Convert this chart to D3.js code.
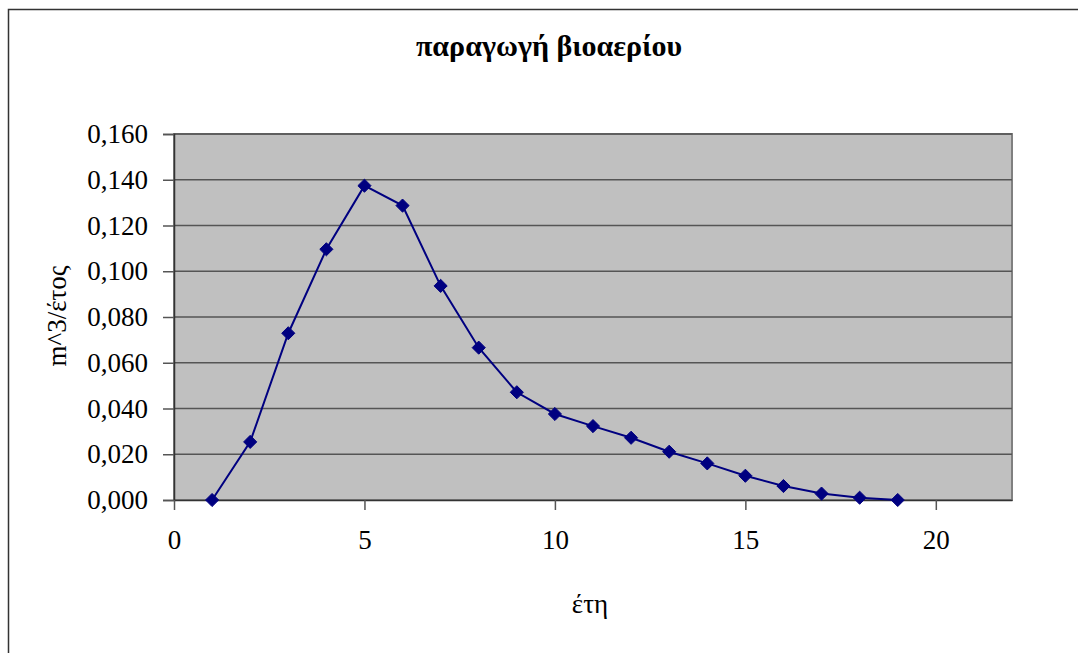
<!DOCTYPE html>
<html><head><meta charset="utf-8">
<script src="https://cdn.jsdelivr.net/npm/d3@7"></script>
<style>html,body{margin:0;padding:0;background:#fff;overflow:hidden}
svg text{font-family:"Liberation Serif","Times New Roman",serif;}</style>
</head><body>
<svg id="chart" width="1078" height="653"></svg>
<script>
const years = [1,2,3,4,5,6,7,8,9,10,11,12,13,14,15,16,17,18,19];
const biogas = [0.000,0.0254,0.0729,0.1096,0.1374,0.1287,0.0936,0.0666,0.0471,0.0376,0.0323,0.0272,0.0211,0.0160,0.0106,0.0061,0.0028,0.0010,0.0000];
const xTicks = [0,5,10,15,20];
const yTicks = [0,0.02,0.04,0.06,0.08,0.10,0.12,0.14,0.16];
const titleText = "παραγωγή βιοαερίου";
const xLabel = "έτη";
const yLabel = "m^3/έτος";

const svg = d3.select("#chart");
const font = "Liberation Serif";
const L=174, R=1012, T=134, B=500;
const x = d3.scaleLinear().domain([0,22]).range([L,R]);
const y = d3.scaleLinear().domain([0,0.16]).range([B,T]);

// outer chart border
svg.append("rect").attr("x",8.5).attr("y",9.5).attr("width",1100).attr("height",700)
  .attr("fill","#fff").attr("stroke","#333").attr("stroke-width",1.5);

// plot area
svg.append("rect").attr("x",L).attr("y",T).attr("width",R-L).attr("height",B-T)
  .attr("fill","#c0c0c0").attr("stroke","#808080").attr("stroke-width",2);

// gridlines
svg.append("g").selectAll("line").data(yTicks.filter(d=>d>0)).join("line")
  .attr("x1",L).attr("x2",R).attr("y1",d=>y(d)).attr("y2",d=>y(d))
  .attr("stroke","#555").attr("stroke-width",1.5);

const fmt = d => d3.format(".3f")(d).replace(".",",");

// y axis
const ya = svg.append("g").attr("transform",`translate(${L},0)`)
  .call(d3.axisLeft(y).tickValues(yTicks).tickFormat(fmt).tickSize(11).tickPadding(15));
ya.attr("font-family",null).attr("font-size",null);
ya.select(".domain").attr("stroke","#333").attr("stroke-width",1.5);
ya.selectAll(".tick line").attr("stroke","#555").attr("stroke-width",1.5);
ya.selectAll("text").style("font-family",font).style("font-size","27px").attr("fill","#000");

// x axis
const xa = svg.append("g").attr("transform",`translate(0,${B})`)
  .call(d3.axisBottom(x).tickValues(xTicks).tickFormat(d3.format("d")).tickSize(10).tickSizeOuter(0).tickPadding(20));
xa.attr("font-family",null).attr("font-size",null);
xa.select(".domain").attr("stroke","#333").attr("stroke-width",1.5);
xa.selectAll(".tick line").attr("stroke","#555").attr("stroke-width",1.5);
xa.selectAll("text").style("font-family",font).style("font-size","27px").attr("fill","#000");

// line
const pts = years.map((d,i)=>[d,biogas[i]]);
svg.append("path").datum(pts)
  .attr("d",d3.line().x(d=>x(d[0])).y(d=>y(d[1])))
  .attr("fill","none").attr("stroke","#000080").attr("stroke-width",2);

// markers
svg.append("g").selectAll("path").data(pts).join("path")
  .attr("transform",d=>`translate(${x(d[0])},${y(d[1])})`)
  .attr("d",d3.symbol(d3.symbolDiamond2,110)())
  .attr("fill","#000080").attr("stroke","#000080").attr("stroke-width",1);

// title
svg.append("text").attr("x",549).attr("y",56).attr("text-anchor","middle")
  .style("font-family",font).style("font-weight","bold").style("font-size","30px")
  .text(titleText);

// x label
svg.append("text").attr("x",590).attr("y",613).attr("text-anchor","middle")
  .style("font-family",font).style("font-size","27px").text(xLabel);

// y label
svg.append("text").attr("transform","translate(66,316) rotate(-90)").attr("text-anchor","middle")
  .style("font-family",font).style("font-size","27px").text(yLabel);
</script>
</body></html>
